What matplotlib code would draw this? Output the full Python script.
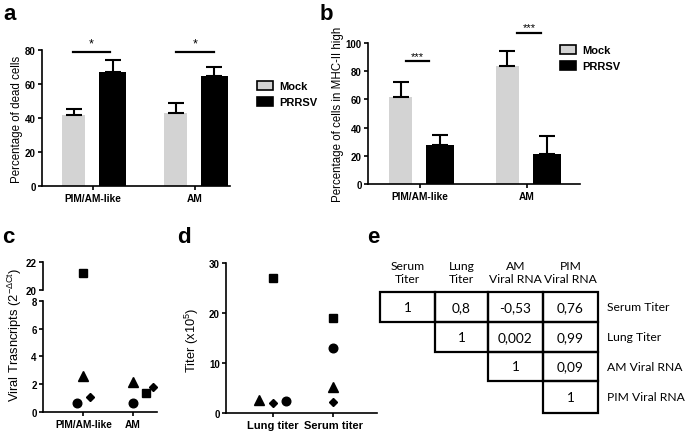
import matplotlib
matplotlib.use('Agg')
import matplotlib.pyplot as plt
from matplotlib.patches import Patch, Rectangle
import numpy as np

W, H = 685, 435
plt.rcParams['font.family'] = ['Liberation Sans', 'DejaVu Sans']

# ---------------- data ----------------
groups = ['PIM/AM-like', 'AM']
legend_labels = ['Mock', 'PRRSV']

dead_mock = [41.5, 43.0]
dead_mock_err = [4.0, 6.0]
dead_prrsv = [67.0, 65.0]
dead_prrsv_err = [7.0, 5.0]
dead_sig = ['*', '*']

mhc_mock = [62.0, 83.5]
mhc_mock_err = [10.0, 10.5]
mhc_prrsv = [27.5, 21.0]
mhc_prrsv_err = [7.5, 13.0]
mhc_sig = ['***', '***']
mhc_sig_y = [87.0, 107.0]

# panel c: viral transcripts per animal (PIM/AM-like, AM)
c_circle = [0.63, 0.63]
c_square = [21.2, 1.35]
c_triangle = [2.56, 2.12]
c_diamond = [1.08, 1.81]

# panel d: titers per animal (Lung, Serum)
titer_cats = ['Lung titer', 'Serum titer']
d_circle = [2.3, 13.0]
d_square = [26.9, 19.0]
d_triangle = [2.6, 5.1]
d_diamond = [1.9, 2.2]

# panel e: correlation table
col_labels = ['Serum\nTiter', 'Lung\nTiter', 'AM\nViral RNA', 'PIM\nViral RNA']
row_labels = ['Serum Titer', 'Lung Titer', 'AM Viral RNA', 'PIM Viral RNA']
corr = [['1', '0,8', '-0,53', '0,76'],
        [None, '1', '0,002', '0,99'],
        [None, None, '1', '0,09'],
        [None, None, None, '1']]

# ---------------- style ----------------
MOCK = '#d3d3d3'
LW = 1.2
TICKFS = 7
fig = plt.figure(figsize=(W / 100, H / 100), dpi=100)


def px_axes(l, t, r, b):
    return fig.add_axes([l / W, 1 - b / H, (r - l) / W, (b - t) / H])


def style_axes(ax, xticklen=3):
    for s in ['top', 'right']:
        ax.spines[s].set_visible(False)
    for s in ['left', 'bottom']:
        ax.spines[s].set_linewidth(LW)
    ax.tick_params(axis='y', length=3, width=LW, labelsize=TICKFS, pad=1.5)
    ax.tick_params(axis='x', length=xticklen, width=LW, labelsize=7.3, pad=2)
    for lab in ax.get_yticklabels() + ax.get_xticklabels():
        lab.set_fontweight('bold')


def bar_panel(ax, mock, mock_err, prrsv, prrsv_err, offs, widths):
    x = np.arange(len(groups))
    ax.bar(x + offs[0], mock, widths[0], color=MOCK, zorder=2)
    ax.bar(x + offs[1], prrsv, widths[1], color='black', zorder=2)
    ax.errorbar(x + offs[0], mock, yerr=[np.zeros(len(mock)), mock_err], fmt='none',
                ecolor='black', elinewidth=1.5, capsize=5.5, capthick=1.5, zorder=3)
    ax.errorbar(x + offs[1], prrsv, yerr=[np.zeros(len(prrsv)), prrsv_err], fmt='none',
                ecolor='black', elinewidth=1.5, capsize=5.5, capthick=1.5, zorder=3)
    ax.set_xticks(x)
    ax.set_xticklabels(groups)
    return x


def legend_at(ax, x, y):
    handles = [Patch(facecolor=MOCK, edgecolor='black', linewidth=1.2),
               Patch(facecolor='black', edgecolor='black', linewidth=1.2)]
    ax.legend(handles, legend_labels, loc='upper left', bbox_to_anchor=(x / W, 1 - y / H),
              bbox_transform=fig.transFigure, frameon=False, borderpad=0,
              handlelength=1.5, handleheight=0.9, handletextpad=0.5, labelspacing=0.5,
              prop={'weight': 'bold', 'size': 8})


# ---------------- panel a ----------------
axa = px_axes(42, 51, 230, 187)
xa = bar_panel(axa, dead_mock, dead_mock_err, dead_prrsv, dead_prrsv_err,
               (-0.19, 0.19), (0.226, 0.265))
axa.set_xlim(-0.504, 1.344)
axa.set_ylim(0, 80)
axa.set_yticks([0, 20, 40, 60, 80])
style_axes(axa)
axa.set_ylabel('Percentage of dead cells', fontsize=8.3, labelpad=1)
a_sig_ext = [(-0.2, 0.164), (-0.19, 0.187)]
for xi, s, (l0, l1) in zip(xa, dead_sig, a_sig_ext):
    axa.plot([xi + l0, xi + l1], [78.8, 78.8], color='black', lw=1.6, clip_on=False)
    axa.text(xi + (l0 + l1) / 2, 80.5, s, ha='center', va='bottom', fontsize=9, clip_on=False)
legend_at(axa, 251, 76)

# ---------------- panel b ----------------
axb = px_axes(368, 44, 580, 185)
xb = bar_panel(axb, mhc_mock, mhc_mock_err, mhc_prrsv, mhc_prrsv_err,
               (-0.18, 0.19), (0.22, 0.26))
axb.set_xlim(-0.487, 1.5)
axb.set_ylim(0, 100)
axb.set_yticks([0, 20, 40, 60, 80, 100])
style_axes(axb)
axb.set_ylabel('Percentage of cells in MHC-II high', fontsize=8.3, labelpad=1)
b_sig_ext = [(-0.134, 0.087), (-0.088, 0.134)]
for xi, s, yy, (l0, l1) in zip(xb, mhc_sig, mhc_sig_y, b_sig_ext):
    axb.plot([xi + l0, xi + l1], [yy, yy], color='black', lw=1.6, clip_on=False)
    axb.text(xi + (l0 + l1) / 2, yy + 0.5, s, ha='center', va='bottom', fontsize=8, clip_on=False)
legend_at(axb, 554, 40)

# ---------------- panel c ----------------
markers = [('o', 6.2), ('s', 6.0), ('^', 6.5), ('D', 4.3)]
c_series = [c_circle, c_square, c_triangle, c_diamond]
c_offsets = [[-0.135, 0.0], [0.0, 0.27], [0.0, 0.0], [0.135, 0.4]]

axc_lo = px_axes(43, 302, 157, 412.7)
axc_hi = px_axes(43, 263.3, 157, 290.7)
for ax in (axc_lo, axc_hi):
    for (m, ms), vals, offs in zip(markers, c_series, c_offsets):
        ax.plot(np.arange(len(groups)) + np.array(offs), vals, linestyle='none',
                marker=m, markersize=ms, color='black')
    ax.set_xlim(-0.82, 1.49)
axc_lo.set_ylim(0, 8)
axc_lo.set_yticks([0, 2, 4, 6, 8])
axc_lo.set_xticks(np.arange(len(groups)))
axc_lo.set_xticklabels(groups)
style_axes(axc_lo)
axc_hi.set_ylim(20, 22)
axc_hi.set_yticks([20, 22])
axc_hi.set_xticks([])
style_axes(axc_hi)
axc_hi.spines['bottom'].set_visible(False)
fig.text(15 / W, 1 - 335 / H, r'Viral Trasncripts (2$^{\mathregular{-\Delta Ct}}$)',
         rotation=90, ha='center', va='center', fontsize=9.3)

# ---------------- panel d ----------------
d_series = [d_circle, d_square, d_triangle, d_diamond]
d_offsets = [[0.22, 0.0], [0.0, 0.0], [-0.22, 0.0], [0.0, 0.0]]
axd = px_axes(226, 264, 377, 413.7)
for (m, ms), vals, offs in zip(markers, d_series, d_offsets):
    axd.plot(np.arange(len(titer_cats)) + np.array(offs), vals, linestyle='none',
             marker=m, markersize=ms, color='black')
axd.set_xlim(-0.77, 1.72)
axd.set_ylim(0, 30)
axd.set_yticks([0, 10, 20, 30])
axd.set_xticks(np.arange(len(titer_cats)))
axd.set_xticklabels(titer_cats)
style_axes(axd)
for lab in axd.get_xticklabels():
    lab.set_fontsize(8)
fig.text(192 / W, 1 - 340 / H, r'Titer (x10$^{\mathregular{5}}$)',
         rotation=90, ha='center', va='center', fontsize=9.3)

# ---------------- panel e ----------------
axe = fig.add_axes([0, 0, 1, 1])
axe.set_xlim(0, W)
axe.set_ylim(H, 0)
axe.axis('off')
axe.patch.set_alpha(0)
col_edges = [380, 435, 488, 543, 598]
row_edges = [293, 323, 353, 382, 414]
TF = ['Lato', 'DejaVu Sans']
for j, lab in enumerate(col_labels):
    cx = (col_edges[j] + col_edges[j + 1]) / 2
    axe.text(cx, 273, lab, ha='center', va='center', fontsize=8.7, family=TF, linespacing=1.2)
for i, row in enumerate(corr):
    cy = (row_edges[i] + row_edges[i + 1]) / 2
    for j, v in enumerate(row):
        if v is None:
            continue
        axe.add_patch(Rectangle((col_edges[j], row_edges[i]), col_edges[j + 1] - col_edges[j],
                                row_edges[i + 1] - row_edges[i], fill=False, edgecolor='black', lw=1.6))
        cx = (col_edges[j] + col_edges[j + 1]) / 2
        axe.text(cx, cy, v, ha='center', va='center', fontsize=9.8, family=TF)
    axe.text(607, cy, row_labels[i], ha='left', va='center', fontsize=8.7, family=TF)

# ---------------- panel letters ----------------
for lab, x, y in [('a', 3, 20), ('b', 320, 20), ('c', 2, 243), ('d', 177, 243), ('e', 367, 243)]:
    fig.text(x / W, 1 - y / H, lab, fontsize=16, fontweight='bold', ha='left', va='baseline')

fig.savefig('out.png', dpi=100)
